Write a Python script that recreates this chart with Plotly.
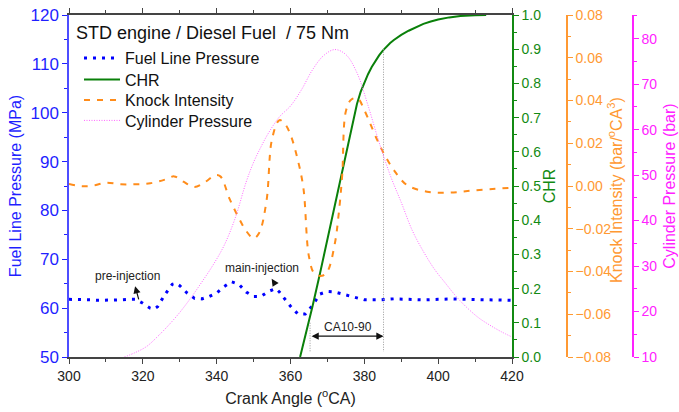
import plotly.graph_objects as go

FONT = "Liberation Sans, Arial, sans-serif"
BLUE = "#1f1fff"
GREEN = "#138a13"
ORANGE = "#ff8c1a"
ORANGE_AX = "#ff9933"
MAGENTA = "#ff22ff"

# Fuel line pressure (MPa)
flp_ca = [300, 302, 304, 306, 308, 310, 312, 314, 316, 318, 320, 322, 323, 324, 326, 328, 329, 330,
          332, 334, 336, 338, 340, 342, 344, 346, 348, 350, 352, 354, 356, 357, 358, 360, 362, 364,
          366, 368, 370, 372, 374, 376, 378, 380, 384, 388, 392, 396, 400, 404, 408, 412, 416, 420]
flp_val = [61.8, 61.8, 61.8, 61.7, 61.6, 61.6, 61.6, 61.7, 61.8, 61.8, 61.0, 60.0, 59.8, 60.3, 62.8,
           64.9, 65.1, 64.6, 63.1, 62.0, 61.9, 62.4, 63.1, 64.4, 65.4, 64.9, 63.3, 62.4, 62.4, 63.4,
           64.0, 63.3, 62.3, 60.4, 58.8, 58.8, 60.6, 62.9, 63.4, 63.3, 62.9, 62.5, 62.0, 61.7, 61.7,
           61.9, 61.8, 61.7, 61.8, 61.9, 61.8, 61.7, 61.6, 61.6]

# Cumulative heat release (-)
chr_ca = [362.6, 364, 366, 368, 370, 372, 374, 375, 376, 377, 378, 379, 380, 381, 382, 383, 384,
          385, 386, 387, 388, 389, 390, 392, 394, 396, 398, 400, 403, 406, 410, 413]
chr_val = [0.0, 0.06, 0.15, 0.245, 0.345, 0.445, 0.55, 0.60, 0.65, 0.697, 0.74, 0.775, 0.803, 0.827,
           0.848, 0.866, 0.882, 0.896, 0.908, 0.918, 0.927, 0.935, 0.942, 0.954, 0.965, 0.974, 0.981,
           0.987, 0.993, 0.997, 0.999, 1.0]

# Knock intensity (bar/degCA^3)
ki_ca = [300, 303, 306, 310, 314, 318, 322, 326, 328.5, 331, 334, 337, 339.5, 341, 343.5, 346, 348,
         350, 351.5, 353.5, 355, 357, 358.5, 360, 362, 363.5, 365, 366.5, 368.5, 370, 372, 373, 374,
         375, 376.5, 378.2, 380, 383.5, 385.5, 388, 391.5, 397, 403, 410, 420]
ki_val = [0.001, 0.0, 0.0, 0.0015, 0.0008, 0.0008, 0.0013, 0.003, 0.0045, 0.002, -0.0005, 0.002,
          0.0050, 0.0045, -0.006, -0.015, -0.021, -0.0245, -0.022, -0.007, 0.022, 0.0308, 0.029,
          0.024, 0.012, -0.001, -0.033, -0.041, -0.042, -0.040, -0.027, -0.014, 0.005, 0.035, 0.0405,
          0.041, 0.0355, 0.0215, 0.0145, 0.0075, 0.0005, -0.0027, -0.0031, -0.002, -0.0008]

# Cylinder pressure (bar)
cp_ca = [315, 318, 321, 324, 327, 330, 333, 336, 339, 342, 345, 348, 350, 352, 354, 357, 360, 363,
         366, 369, 372, 375, 378, 381, 384, 387, 390, 393, 396, 399, 402, 405, 408, 411, 414, 417, 420]
cp_val = [10.0, 11.0, 12.3, 14.5, 17.0, 19.8, 23.0, 26.5, 30.2, 34.5, 40.5, 48.5, 52.8, 56.2, 59.2,
          62.8, 65.2, 68.8, 73.2, 76.3, 77.6, 76.5, 72.5, 65.3, 57.2, 50.0, 44.0, 37.8, 33.2, 29.3,
          26.2, 23.2, 20.7, 18.6, 17.0, 15.6, 14.4]

CA10, CA90 = 365.3, 385.2
x_ticks = [300, 320, 340, 360, 380, 400, 420]

W, H = 679, 412
legend_rows = [58, 79.5, 100, 120.5]   # vertical centres (px) of legend rows

fig = go.Figure()
fig.add_trace(go.Scatter(x=flp_ca, y=flp_val, mode="lines", name="Fuel Line Pressure", legend="legend",
                         line=dict(color="#0000ff", width=3, dash="3px,6px"), yaxis="y"))
fig.add_trace(go.Scatter(x=chr_ca, y=chr_val, mode="lines", name="CHR", legend="legend2",
                         line=dict(color="#0a800a", width=2), yaxis="y2"))
fig.add_trace(go.Scatter(x=ki_ca, y=ki_val, mode="lines", name="Knock Intensity", line_shape="spline",
                         legend="legend3",
                         line=dict(color=ORANGE, width=2, dash="6px,7px"), yaxis="y3"))
fig.add_trace(go.Scatter(x=cp_ca, y=cp_val, mode="lines", name="Cylinder Pressure", line_shape="spline",
                         legend="legend4",
                         line=dict(color="#ff66ff", width=1, dash="1px,1.5px"), yaxis="y4"))
# CA10 / CA90 markers
fig.add_trace(go.Scatter(x=[CA10, CA10], y=[0.10, 0.015], mode="lines", showlegend=False,
                         line=dict(color="#999999", width=1, dash="1px,1.5px"), yaxis="y2"))
fig.add_trace(go.Scatter(x=[CA90, CA90], y=[0.90, 0.015], mode="lines", showlegend=False,
                         line=dict(color="#999999", width=1, dash="1px,1.5px"), yaxis="y2"))

ann = []
ann.append(dict(x=74 / W, y=1 - 33 / H, xref="paper", yref="paper", xanchor="left", yanchor="middle",
                text="STD engine / Diesel Fuel&nbsp; / 75 Nm", showarrow=False,
                font=dict(family=FONT, size=18, color="#111")))
ann.append(dict(x=615 / W, y=1 - 190 / H, xref="paper", yref="paper", xanchor="center", yanchor="middle",
                text="Knock Intensity (bar/<sup>o</sup>CA<sup>3</sup>)", textangle=-90, showarrow=False,
                font=dict(family=FONT, size=16, color=ORANGE_AX)))
ann.append(dict(x=315.9, y=66.6, xref="x", yref="y", text="pre-injection", showarrow=False,
                font=dict(family=FONT, size=12, color="#222")))
ann.append(dict(x=317.9, y=64.5, ax=319.0, ay=61.5, xref="x", yref="y", axref="x", ayref="y",
                text="", showarrow=True, arrowhead=2, arrowsize=1.2, arrowwidth=1.2, arrowcolor="#111"))
ann.append(dict(x=352.3, y=68.2, xref="x", yref="y", text="main-injection", showarrow=False,
                font=dict(family=FONT, size=12, color="#222")))
ann.append(dict(x=354.9, y=66.0, ax=356.1, ay=64.6, xref="x", yref="y", axref="x", ayref="y",
                text="", showarrow=True, arrowhead=2, arrowsize=1.2, arrowwidth=1.2, arrowcolor="#111"))
ann.append(dict(x=CA90, y=0.061, ax=CA10, ay=0.061, xref="x", yref="y2", axref="x", ayref="y2",
                text="", showarrow=True, arrowhead=2, arrowside="end+start", arrowsize=1.2,
                arrowwidth=1.2, arrowcolor="#111"))
ann.append(dict(x=(CA10 + CA90) / 2 + 0.3, y=0.088, xref="x", yref="y2", text="CA10-90", showarrow=False,
                font=dict(family=FONT, size=12, color="#222")))

xd = [69 / W, 512 / W]
yd = [1 - 357 / H, 1 - 15 / H]


def leg(row):
    return dict(x=79 / W, y=1 - row / H, xanchor="left", yanchor="middle", bgcolor="rgba(0,0,0,0)",
                itemwidth=36, font=dict(family=FONT, size=16, color="#111"))


fig.update_layout(
    width=W, height=H, autosize=False,
    margin=dict(l=0, r=0, t=0, b=0, autoexpand=False),
    paper_bgcolor="white", plot_bgcolor="white",
    font=dict(family=FONT),
    showlegend=True,
    legend=leg(legend_rows[0]), legend2=leg(legend_rows[1]),
    legend3=leg(legend_rows[2]), legend4=leg(legend_rows[3]),
    annotations=ann,
    xaxis=dict(domain=xd, range=[300, 420], tickvals=x_ticks, ticks="outside", ticklen=5,
               tickcolor="#444", showline=True, linecolor="#444", linewidth=1.5, mirror="ticks",
               minor=dict(dtick=10, ticks="outside", ticklen=3, tickcolor="#444"),
               tickfont=dict(size=14, color="#222"), showgrid=False, zeroline=False, automargin=False,
               title=dict(text="Crank Angle (<sup>o</sup>CA)", font=dict(size=16, color="#222"), standoff=10)),
    yaxis=dict(domain=yd, range=[50, 120], dtick=10, ticks="outside", ticklen=5, tickcolor=BLUE,
               showline=True, linecolor="#4d4dff", linewidth=1.5, automargin=False,
               minor=dict(dtick=5, ticks="outside", ticklen=3, tickcolor=BLUE),
               tickfont=dict(size=17, color=BLUE), showgrid=False, zeroline=False,
               title=dict(text="Fuel Line Pressure (MPa)", font=dict(size=16, color=BLUE), standoff=5)),
    yaxis2=dict(overlaying="y", side="right", anchor="x", range=[0, 1.0], dtick=0.1, tickformat=".1f",
                ticks="outside", ticklen=5, tickcolor=GREEN, showline=True, linecolor=GREEN, linewidth=1.5,
                minor=dict(dtick=0.05, ticks="outside", ticklen=3, tickcolor=GREEN), automargin=False,
                tickfont=dict(size=14, color=GREEN), showgrid=False, zeroline=False,
                title=dict(text="CHR", font=dict(size=16, color=GREEN), standoff=4)),
    yaxis3=dict(overlaying="y", side="right", anchor="free", position=567 / W, range=[-0.08, 0.08],
                dtick=0.02, tickformat=".2f", ticks="outside", ticklen=5, tickcolor=ORANGE_AX,
                showline=True, linecolor=ORANGE_AX, linewidth=1.5, automargin=False,
                minor=dict(dtick=0.01, ticks="outside", ticklen=3, tickcolor=ORANGE_AX),
                tickfont=dict(size=14, color=ORANGE_AX), showgrid=False, zeroline=False),
    yaxis4=dict(overlaying="y", side="right", anchor="free", position=633 / W, range=[10, 85.2],
                tickvals=[10, 20, 30, 40, 50, 60, 70, 80], ticks="outside", ticklen=5, tickcolor=MAGENTA,
                showline=True, linecolor=MAGENTA, linewidth=1.5, automargin=False,
                minor=dict(dtick=5, ticks="outside", ticklen=3, tickcolor=MAGENTA),
                tickfont=dict(size=14, color=MAGENTA), showgrid=False, zeroline=False,
                title=dict(text="Cylinder Pressure (bar)", font=dict(size=16, color=MAGENTA), standoff=6)),
)

fig.write_html("out.html")
